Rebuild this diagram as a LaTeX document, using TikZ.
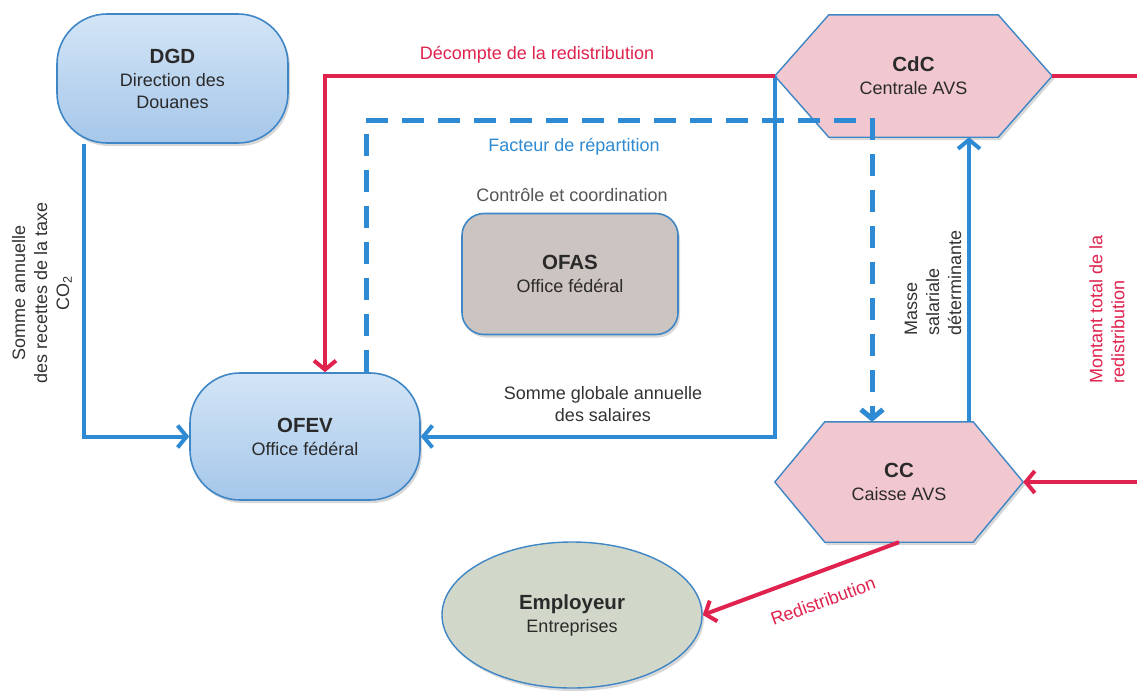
\documentclass[tikz,border=0pt]{standalone}
\usepackage{fontspec}
\setmainfont{Liberation Sans}
\usetikzlibrary{arrows.meta,shapes.geometric,shadows,calc}
\pgfdeclarelayer{background}
\pgfsetlayers{background,main}
\definecolor{redl}{HTML}{E0234E}
\definecolor{bluel}{HTML}{2E8AD2}
\definecolor{bord}{HTML}{3F86C6}
\definecolor{bluetop}{HTML}{D3E5F6}
\definecolor{bluebot}{HTML}{A6C7EA}
\definecolor{pinkf}{HTML}{F2C8D0}
\definecolor{ofasf}{HTML}{CCC4C0}
\definecolor{empf}{HTML}{D1D8C9}
\definecolor{txt}{HTML}{2A2A2A}
\definecolor{lbl}{HTML}{333333}
\definecolor{ctrl}{HTML}{555555}
\begin{document}
\begin{tikzpicture}[x=1pt,y=-1pt,
  >={Straight Barb[length=9pt,width=22pt]},
  nodefont/.style={font=\fontsize{18}{22}\selectfont, text=txt, align=center},
  shad/.style={drop shadow={shadow xshift=2pt,shadow yshift=-3pt,opacity=0.25,fill=black!60}},
  bluebox/.style={nodefont, draw=bord, line width=1.6pt, top color=bluetop, bottom color=bluebot, rounded corners=50pt, shad},
  ofasbox/.style={nodefont, draw=bord, line width=1.6pt, fill=ofasf, rounded corners=22pt, shad},
  empbox/.style={nodefont, ellipse, draw=bord, line width=1.4pt, fill=empf, shad},
  hexnode/.style={nodefont, inner sep=0pt},
  hexfill/.style={draw=bord, line width=1.4pt, fill=pinkf, shad},
  redline/.style={draw=redl, line width=4pt},
  blueline/.style={draw=bluel, line width=4pt},
  dashline/.style={draw=bluel, line width=5pt, dash pattern=on 22pt off 14pt},
  lab/.style={font=\fontsize{18}{22}\selectfont, text=lbl, align=center, inner sep=0pt},
]
\useasboundingbox (0,0) rectangle (1137,691);

% nodes
\node[bluebox, minimum width=231pt, minimum height=129pt] (dgd) at (172.5,78.5)
  {{\bfseries\fontsize{20.5}{24}\selectfont DGD}\\[1pt]Direction des\\Douanes};
\node[bluebox, minimum width=230pt, minimum height=127pt] (ofev) at (305,436.5)
  {{\bfseries\fontsize{20.5}{24}\selectfont OFEV}\\[1pt]Office fédéral};
\node[ofasbox, minimum width=216pt, minimum height=121pt] (ofas) at (570,274)
  {{\bfseries\fontsize{20.5}{24}\selectfont OFAS}\\[1pt]Office fédéral};
\node[empbox, minimum width=260pt, minimum height=146pt] (emp) at (572,615)
  {{\bfseries\fontsize{20.5}{24}\selectfont Employeur}\\[1pt]Entreprises};
\node[hexnode, minimum width=277pt, minimum height=122pt] (cdc) at (913.5,76)
  {{\bfseries\fontsize{20.5}{24}\selectfont CdC}\\[1pt]Centrale AVS};
\node[hexnode, minimum width=248pt, minimum height=120pt] (cc) at (899,482)
  {{\bfseries\fontsize{20.5}{24}\selectfont CC}\\[1pt]Caisse AVS};

\begin{pgfonlayer}{background}
\fill[white] (0,0) rectangle (1137,691);
\path[hexfill] ([xshift=54pt]cdc.north west) -- ([xshift=-54pt]cdc.north east) -- (cdc.east)
  -- ([xshift=-54pt]cdc.south east) -- ([xshift=54pt]cdc.south west) -- (cdc.west) -- cycle;
\path[hexfill] ([xshift=50pt]cc.north west) -- ([xshift=-50pt]cc.north east) -- (cc.east)
  -- ([xshift=-50pt]cc.south east) -- ([xshift=50pt]cc.south west) -- (cc.west) -- cycle;
\end{pgfonlayer}

% helper coordinates
\coordinate (mA) at ([xshift=70pt]cc.north);
\coordinate (cA) at ([xshift=-27pt]cc.north);
\coordinate (fA) at ([yshift=17pt]cdc.south);
\coordinate (fTop) at (cA |- fA);
\coordinate (oN) at ([xshift=61pt]ofev.north);
\coordinate (edgeA) at ([xshift=95pt]cdc.east);
\coordinate (edgeB) at ([xshift=125pt]cc.east);

% connectors
\draw[blueline,->] ([xshift=28pt]dgd.south west) |- (ofev.west);
\draw[blueline,->] (cdc.west) |- (ofev.east);
\draw[redline,->] (cdc.west) -| ([xshift=20pt]ofev.north);
\draw[dashline,->] (oN) |- (fTop) -- (cA);
\draw[blueline,->] (mA) -- (mA |- cdc.south);
\draw[redline] (cdc.east) -- (edgeA);
\draw[redline,->] (edgeB) -- (cc.east);
\draw[redline,->] (cc.south) -- (emp.east);

% labels
\node[lab, text=redl] (l1) at (537,55) {Décompte de la redistribution};
\node[lab, text=bluel] (l2) at (574,147) {Facteur de répartition};
\node[lab, text=ctrl] (l3) at (572,195) {Contrôle et coordination};
\node[lab] (l4) at (603,404) {Somme globale annuelle\\des salaires};
\node[lab, rotate=90] (l5) at (42,293) {Somme annuelle\\des recettes de la taxe\\CO\textsubscript{2}};
\node[lab, rotate=90, align=left, anchor=west] (l6) at (933,336) {Masse\\salariale\\déterminante};
\node[lab, rotate=90, align=left, anchor=west, text=redl] (l7) at (1107,384) {Montant total de la\\redistribution};
\node[lab, rotate=20, text=redl] (l8) at (823,601) {Redistribution};
\end{tikzpicture}
\end{document}
